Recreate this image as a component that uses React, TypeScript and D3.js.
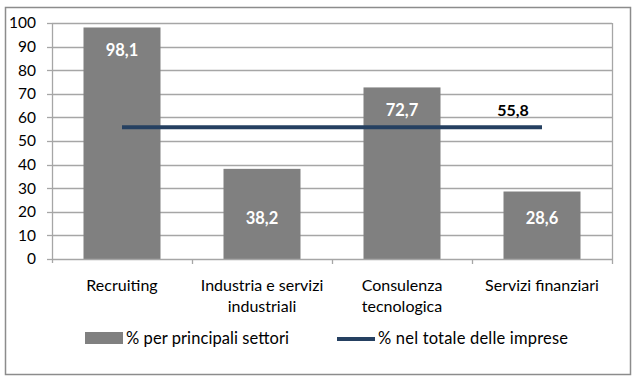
import React from "react";
import * as d3 from "d3";

const categories: string[][] = [
  ["Recruiting"],
  ["Industria e servizi", "industriali"],
  ["Consulenza", "tecnologica"],
  ["Servizi finanziari"],
];
const sectorValues: number[] = [98.1, 38.2, 72.7, 28.6];
const sectorLabels: string[] = ["98,1", "38,2", "72,7", "28,6"];
// vertical position of each data label, in axis units (as placed in the original)
const sectorLabelAt: number[] = [88.5, 17.3, 63.1, 17.3];
const totalValue: number = 55.8;
const totalLabel: string = "55,8";
const yTicks: number[] = [0, 10, 20, 30, 40, 50, 60, 70, 80, 90, 100];
const legendNames: string[] = ["% per principali settori", "% nel totale delle imprese"];

const W = 640;
const H = 379;
const FONT = "Lato, 'Open Sans', sans-serif";

export default function App() {
  const left = 52, right = 612, top = 23, bottom = 259;
  const x = d3.scaleBand<number>().domain(d3.range(categories.length)).range([left, right]).paddingInner(0.45).paddingOuter(0.225);
  const band = d3.scaleBand<number>().domain(d3.range(categories.length)).range([left, right]);
  const y = d3.scaleLinear().domain([0, 100]).range([bottom, top]);
  const barColor = "#808080";
  const lineColor = "#254061";
  const gridColor = "#a6a6a6";
  const cx = (i: number) => (band(i) as number) + band.bandwidth() / 2;
  const lineGen = d3.line<number>().x((_, i) => cx(i)).y((d) => y(d));
  const lineData = categories.map(() => totalValue);

  return (
    <svg width={W} height={H} style={{ position: "absolute", left: 0, top: 0, background: "#fff" }} fontFamily={FONT}>
      <rect x={5.5} y={7.5} width={625} height={367} fill="#fff" stroke="#8c8c8c" strokeWidth={1.5} />
      {yTicks.map((t) => (
        <g key={t}>
          {t > 0 && <line x1={left} x2={right} y1={Math.round(y(t)) + 0.5} y2={Math.round(y(t)) + 0.5} stroke={gridColor} strokeWidth={1.3} />}
          <line x1={left - 5} x2={left} y1={Math.round(y(t)) + 0.5} y2={Math.round(y(t)) + 0.5} stroke={gridColor} strokeWidth={1.3} />
          <text x={36} y={y(t)} dy="0.35em" textAnchor="end" fontSize={15.5} fill="#000">{t}</text>
        </g>
      ))}
      <line x1={right + 0.5} x2={right + 0.5} y1={top} y2={bottom} stroke={gridColor} strokeWidth={1.3} />
      {sectorValues.map((v, i) => (
        <rect key={i} x={x(i)} y={y(v)} width={x.bandwidth()} height={bottom - y(v)} fill={barColor} />
      ))}
      <line x1={left + 0.5} x2={left + 0.5} y1={top} y2={bottom + 4} stroke={gridColor} strokeWidth={1.3} />
      <line x1={left} x2={right} y1={bottom + 0.5} y2={bottom + 0.5} stroke={gridColor} strokeWidth={1.3} />
      {categories.map((_, i) => (
        <line key={i} x1={(band(i) as number) + band.bandwidth() + 0.5} x2={(band(i) as number) + band.bandwidth() + 0.5} y1={bottom} y2={bottom + 5} stroke={gridColor} strokeWidth={1.3} />
      ))}
      <path d={lineGen(lineData) || ""} fill="none" stroke={lineColor} strokeWidth={4} />
      {sectorValues.map((v, i) => (
        <text key={i} x={cx(i)} y={y(sectorLabelAt[i])} dy="0.35em" textAnchor="middle" fontSize={16.5} fontWeight="bold" fill="#fff">{sectorLabels[i]}</text>
      ))}
      <text x={513} y={y(totalValue) - 17} dy="0.35em" textAnchor="middle" fontSize={16} fontWeight="bold" fill="#000">{totalLabel}</text>
      {categories.map((lines, i) => (
        <text key={i} x={cx(i)} y={285} dy="0.35em" textAnchor="middle" fontSize={16} fill="#000">
          {lines.map((l, j) => (
            <tspan key={j} x={cx(i)} dy={j === 0 ? "0.35em" : 21}>{l}</tspan>
          ))}
        </text>
      ))}
      <rect x={85} y={332} width={38} height={12} fill={barColor} />
      <text x={126} y={338} dy="0.35em" fontSize={16.5} fill="#000" textLength={163} lengthAdjust="spacing">{legendNames[0]}</text>
      <line x1={337} x2={375} y1={339} y2={339} stroke={lineColor} strokeWidth={4} />
      <text x={378} y={338} dy="0.35em" fontSize={16.5} fill="#000" textLength={190} lengthAdjust="spacing">{legendNames[1]}</text>
    </svg>
  );
}
